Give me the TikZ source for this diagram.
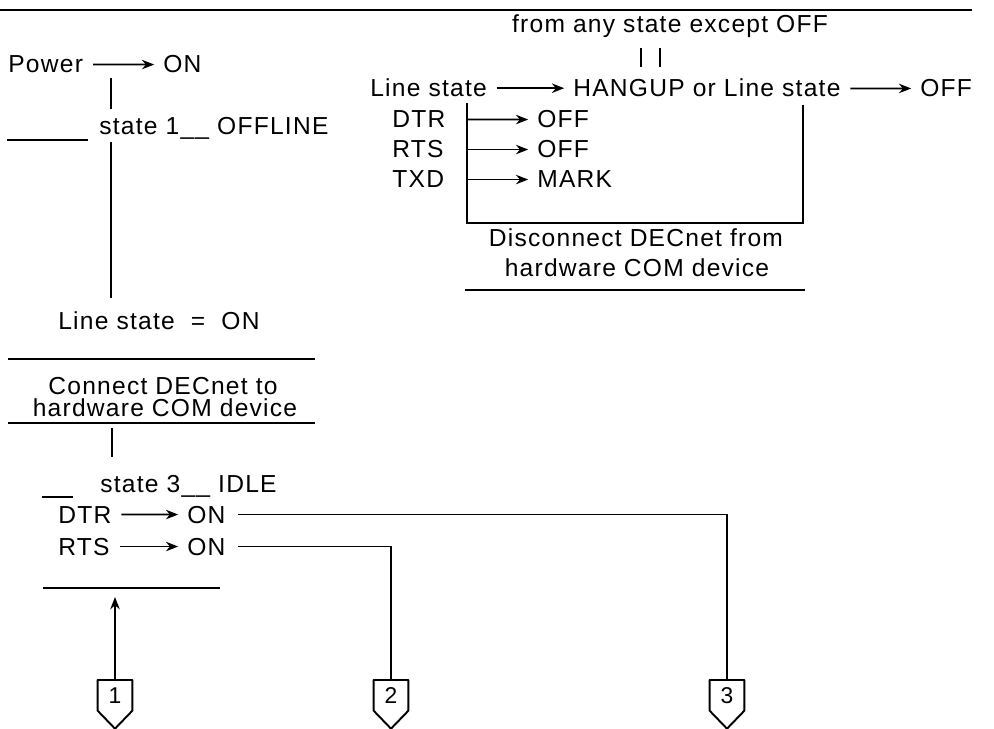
\documentclass[tikz,border=0pt]{standalone}
\usepackage{fontspec}
\newfontfamily\diagfont{Liberation Sans}[LetterSpace=5]
\usetikzlibrary{arrows.meta}

\begin{document}
\begin{tikzpicture}[
  x=0.02cm, y=-0.02cm,
  >={Stealth[length=7pt, width=5.4pt]},
  txt/.style={inner sep=0pt, anchor=base west,
    font=\diagfont\fontsize{14}{16}\selectfont},
  sigedge/.style={draw, ->, line width=1pt, shorten <=5.5pt, shorten >=5pt},
  wire/.style={draw, line width=1pt},
  rulel/.style={draw, line width=1.1pt},
  offpage/.style={
    rectangle, anchor=north, inner sep=0pt,
    minimum width=0.68cm, minimum height=0.6cm,
    font=\diagfont\fontsize{13}{15}\selectfont
  },
]
\useasboundingbox (0,0) rectangle (994,729);

% ============================================================
% TOP RULE
% ============================================================
\draw[rulel] (0,10) -- (972,10);

% ============================================================
% LEFT COLUMN: power on -> state 1 -> line on -> state 3
% ============================================================
\node[txt] (power) at (8,73) {Power};
\node[txt] (on1) at (163,73) {ON};
\draw[sigedge] (power) -- (on1);

\coordinate (tap1) at (111,78);
\node[txt] (st1) at (99,135) {state 1\_\_ OFFLINE};
\draw[rulel] (7,140) -- (88,140);
\draw[wire, shorten >=5pt] (tap1) -- (tap1 |- st1.north);

\node[txt] (lson) at (58,330) {Line state~~=~~ON};
\draw[wire, shorten <=1pt, shorten >=8pt] (st1.south -| tap1) -- (lson.north -| tap1);

\draw[rulel] (8,359) -- (315,359);
\node[txt, anchor=base] (conn) at (163,395) {Connect DECnet to};
\node[txt, anchor=base] (hw1) at (165,417) {hardware COM device};
\draw[rulel] (8,423) -- (315,423);

\coordinate (tap2) at (112,428);
\node[txt] (st3) at (100,492) {state 3\_\_ IDLE};
\draw[wire, shorten >=10pt] (tap2) -- (tap2 |- st3.north);
\draw[rulel] (42,497) -- (73,497);

\node[txt] (dtr1) at (58,523) {DTR};
\node[txt] (on3) at (187,523) {ON};
\draw[sigedge] (dtr1) -- (on3);
\node[txt] (rts1) at (58,555) {RTS};
\node[txt] (on4) at (187,555) {ON};
\draw[sigedge] (rts1) -- (on4);
\draw[rulel] (43,588) -- (220,588);

% ============================================================
% OFF-PAGE CONNECTORS
% ============================================================
\node[offpage] (cn1) at (115,680) {1};
\node[offpage] (cn2) at (391,680) {2};
\node[offpage] (cn3) at (727,680) {3};
\foreach \c in {cn1,cn2,cn3}
  \draw[rulel, line join=round] (\c.north west) -- (\c.south west)
    -- ([yshift=-0.36cm]\c.south) -- (\c.south east) -- (\c.north east) -- cycle;

\coordinate (tip1) at (115,597);
\draw[wire, ->] (cn1.north) -- (tip1);
\draw[wire, shorten <=7pt] (on3.east) -| (cn3.north);
\draw[wire, shorten <=7pt] (on4.east) -| (cn2.north);

% ============================================================
% RIGHT BLOCK: hangup / line off -> disconnect
% ============================================================
\node[txt, anchor=base] (anyst) at (670,33) {from any state except OFF};
\node[txt] (lsA) at (370,97) {Line state};
\node[txt] (hang) at (573,97) {HANGUP or Line state};
\node[txt] (offA) at (920,97) {OFF};
\draw[sigedge] (lsA) -- (hang);
\draw[sigedge] (hang) -- (offA);

\coordinate (hl1) at (641,48);
\coordinate (hl2) at (660,48);
\draw[wire, shorten >=7pt] (hl1) -- (hl1 |- hang.north);
\draw[wire, shorten >=7pt] (hl2) -- (hl2 |- hang.north);

% bracket under the two line states
\coordinate (brL) at (467,223);
\coordinate (brR) at (803,223);
\draw[wire, shorten <=3pt, shorten >=4.5pt]
  (lsA.south -| brL) -- (brL) -- (brR) -- (hang.south -| brR);

\node[txt] (dtr2) at (392,128) {DTR};
\node[txt] (rts2) at (392,158) {RTS};
\node[txt] (txd2) at (392,188) {TXD};
\node[txt] (off2) at (537,128) {OFF};
\node[txt] (off3) at (537,158) {OFF};
\node[txt] (mark) at (537,188) {MARK};
\draw[wire, ->, shorten >=5pt] (brL |- dtr2) -- (off2);
\draw[wire, ->, shorten >=5pt] (brL |- rts2) -- (off3);
\draw[wire, ->, shorten >=5pt] (brL |- txd2) -- (mark);

\node[txt, anchor=base] (disc) at (636,247) {Disconnect DECnet from};
\node[txt, anchor=base] (hw2) at (637,277) {hardware COM device};
\draw[rulel] (465,290) -- (805,290);

\end{tikzpicture}
\end{document}
